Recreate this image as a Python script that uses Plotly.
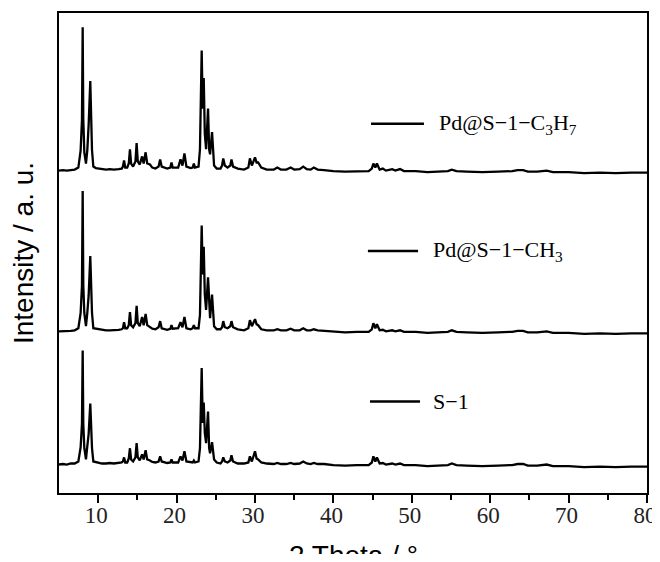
import plotly.graph_objects as go

# 2θ positions (degrees)
two_theta = [5.0, 5.5, 6.0, 6.5, 7.0, 7.47, 7.76, 7.93, 8.02, 8.10,
             8.23, 8.44, 8.61, 8.78, 8.99, 9.21, 9.38, 9.7, 10.0, 10.5,
             11.0, 11.5, 12.0, 12.6, 13.0, 13.15, 13.3, 13.45, 13.7, 13.9,
             14.05, 14.2, 14.45, 14.75, 14.9, 15.05, 15.3, 15.6, 15.8, 16.05,
             16.25, 16.6, 16.9, 17.3, 17.7, 17.9, 18.1, 18.8, 19.2, 19.35,
             19.5, 20.2, 20.5, 20.75, 21.0, 21.25, 21.8, 22.05, 22.2, 22.35,
             22.8, 22.98, 23.2, 23.33, 23.46, 23.6, 23.76, 24.01, 24.15, 24.27,
             24.52, 24.78, 25.12, 25.6, 25.8, 25.95, 26.15, 26.5, 26.85, 27.0,
             27.2, 27.8, 28.6, 29.15, 29.35, 29.6, 30.0, 30.2, 30.4, 30.8,
             31.5, 32.4, 32.85, 33.3, 34.0, 34.55, 35.0, 35.7, 36.15, 36.6,
             37.1, 37.5, 38.0, 38.8, 40.0, 41.5, 43.0, 44.5, 44.9, 45.1,
             45.35, 45.55, 45.9, 46.3, 46.7, 47.5, 47.9, 48.5, 49.0, 50.5,
             52.0, 53.5, 54.6, 55.1, 55.7, 57.0, 59.0, 61.0, 62.8, 63.5,
             64.2, 64.8, 66.0, 67.2, 68.0, 70.0, 72.0, 74.0, 76.0, 78.0,
             79.5, 80.0]

# Intensities (a. u.)
int_c3h7 = [28, 28.5, 28, 28.5, 29, 31, 48, 78, 169, 78,
            46, 35, 48, 73, 116, 48, 32, 30.5, 30, 29.5,
            29, 29.5, 29, 29.5, 30, 32, 38, 31, 31, 35,
            49, 35, 32, 37, 55, 37, 34, 42, 35, 46,
            35, 34, 31, 30, 32, 39, 32, 30, 31, 36,
            31, 31, 39, 33, 45, 32, 30.5, 31, 35, 31,
            32, 49, 146, 89, 119, 64, 49, 89, 49, 44,
            66, 33, 30, 30, 33, 40, 33, 31, 33, 39,
            32, 30, 29, 31, 40, 33, 41, 36, 36, 31,
            29, 29, 31, 29, 29, 31, 29, 29.5, 32, 29.5,
            29, 31, 29, 28.5, 27.5, 27, 27.5, 27.5, 30, 35,
            31, 35, 29, 30, 28, 29.5, 28, 29.5, 27.5, 27.5,
            26.5, 27, 27.5, 29, 27.5, 27, 26.5, 27, 27.5, 28.5,
            28.5, 27, 27, 28, 26.5, 26.5, 25.5, 26, 25.5, 26,
            26.5, 26]

int_ch3 = [28, 28, 28.5, 28.5, 29, 31, 46, 73, 166, 73,
           46, 33, 46, 63, 102, 46, 31, 30.5, 30, 29.5,
           29, 29, 29, 29.5, 30, 31, 37, 31, 31, 34,
           47, 34, 32, 36, 53, 36, 33, 42, 34, 45,
           34, 32, 30.5, 30, 32, 38, 31, 29.5, 30.5, 34,
           30.5, 31, 37, 32, 42, 31, 30, 31, 34, 31,
           31, 44, 132, 84, 111, 64, 49, 81, 49, 41,
           64, 33, 30, 30, 32, 38, 32, 31, 33, 38,
           32, 30, 29, 31, 39, 33, 40, 35, 34, 30,
           29, 29, 30, 29, 29, 30.5, 29, 29, 31, 29,
           29, 30, 29, 28.5, 27.5, 27, 27.5, 27.5, 30, 36,
           31, 35, 29, 29.5, 28, 29, 28, 29, 27.5, 27.5,
           26.5, 27, 27.5, 29, 27.5, 27, 26.5, 27, 27.5, 28.5,
           28.5, 27, 27, 28, 26.5, 26.5, 25.5, 26, 25.5, 26,
           26.5, 26]

int_s1 = [28, 28.5, 28, 29, 29, 31, 45, 68, 140, 68,
          44, 33, 46, 58, 88, 44, 31, 30.5, 30, 29,
          29, 29.5, 29, 29.5, 30, 31, 35, 30, 30, 34,
          44, 33, 31, 35, 49, 35, 32, 38, 33, 42,
          33, 32, 30.5, 30, 31, 36, 31, 29.5, 30, 33,
          30, 30, 36, 32, 41, 31, 30, 30, 32, 30,
          31, 44, 123, 69, 89, 59, 49, 80, 44, 39,
          50, 33, 30, 29, 31, 35, 31, 30, 32, 37,
          31, 29, 29, 30, 36, 31, 41, 34, 33, 30,
          29, 28.5, 29.5, 28.5, 28.5, 29.5, 28.5, 29, 31, 29,
          28.5, 29.5, 28.5, 28.5, 27.5, 27, 27.5, 27.5, 30, 36,
          31, 35, 29, 29.5, 28, 29, 28, 29, 27.5, 27.5,
          26.5, 27, 27.5, 29, 27.5, 27, 26.5, 27, 27.5, 28.5,
          28.5, 27, 27, 28, 26.5, 26.5, 25.5, 26, 25.5, 26,
          26.5, 26]

assert len(two_theta) == len(int_c3h7) == len(int_ch3) == len(int_s1)

sample_names = ["Pd@S\u22121\u2212C<sub>3</sub>H<sub>7</sub>",
                "Pd@S\u22121\u2212CH<sub>3</sub>",
                "S\u22121"]
stack_offsets = [289, 131, 0]
series = [int_c3h7, int_ch3, int_s1]

x_ticks = [10, 20, 30, 40, 50, 60, 70, 80]
x_title = "2 Theta / \u00b0"
y_title = "Intensity / a. u."

fig = go.Figure()
for name, off, vals in zip(sample_names, stack_offsets, series):
    fig.add_trace(go.Scatter(
        x=two_theta, y=[v + off for v in vals], mode="lines",
        line=dict(color="black", width=2.3), name=name, showlegend=False,
        hoverinfo="skip"))

# legend-like labels (line sample + text), placed beside each pattern
legend_pos = [  # (line x0, line x1, text x, y)
    (44.8, 51.55, 53.2, 363),
    (44.4, 50.8, 52.45, 238),
    (44.67, 51.05, 52.5, 90),
]
for name, (x0, x1, xt, yy) in zip(sample_names, legend_pos):
    fig.add_shape(type="line", xref="x", yref="y", x0=x0, x1=x1, y0=yy, y1=yy,
                  line=dict(color="black", width=2.5))
    fig.add_annotation(x=xt, y=yy, xref="x", yref="y", text=name,
                       showarrow=False, xanchor="left", yanchor="middle",
                       font=dict(family="Liberation Serif", size=22, color="black"))

# x-axis title placed below the tick labels
fig.add_annotation(x=0.5, y=-0.131, xref="paper", yref="paper", text=x_title,
                   showarrow=False, xanchor="center", yanchor="middle",
                   font=dict(family="Liberation Sans", size=28, color="black"))

# page body has an 8px margin, so the figure is sized/margined to compensate
fig.update_layout(
    width=652, height=546,
    margin=dict(l=51, r=13, t=5, b=61),
    paper_bgcolor="white", plot_bgcolor="white",
    xaxis=dict(
        range=[5, 80], tickvals=x_ticks, ticks="outside", ticklen=8,
        tickwidth=1.5, tickcolor="black", automargin=False,
        ticklabelstandoff=-7, ticklabelshift=-2,
        minor=dict(tickvals=[15, 25, 35, 45, 55, 65, 75], ticks="outside",
                   ticklen=5, tickwidth=1.5, tickcolor="black"),
        showline=True, linecolor="black", linewidth=1.5, mirror=True,
        showgrid=False, zeroline=False,
        tickfont=dict(family="Liberation Serif", size=23, color="#222"),
    ),
    yaxis=dict(
        range=[0, 472], showticklabels=False, ticks="", automargin=False,
        showline=True, linecolor="black", linewidth=1.5, mirror=True,
        showgrid=False, zeroline=False,
        title=dict(text=y_title, standoff=18,
                   font=dict(family="Liberation Sans", size=28, color="black")),
    ),
)

fig.write_html("out.html")
